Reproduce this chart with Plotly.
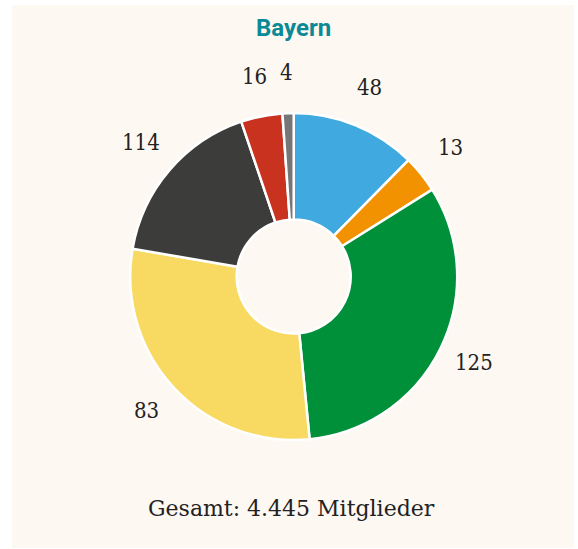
import math
import plotly.graph_objects as go

# --- data -------------------------------------------------------------
parties = ["Blau", "Orange", "Grün", "Gelb", "Dunkel", "Rot", "Grau"]
slice_shares = [12.4, 3.7, 32.4, 29.3, 17.1, 4.1, 1.1]
label_values = [48, 13, 125, 83, 114, 16, 4]               # numbers printed next to slices
slice_colors = ["#3fa9e0", "#f39200", "#00903a", "#f8da63", "#3c3c3b", "#c9321f", "#767676"]
title_text = "Bayern"
footer_text = "Gesamt: 4.445 Mitglieder"

# --- layout constants ---------------------------------------------------
W, H = 578, 549
CX, CY, R = 293.7, 276.5, 163.5   # pie centre / radius in pixels
LABEL_R = 201                       # label distance from centre
LABEL_DY = -3                       # small vertical nudge for label text
CREAM = "#fef8f2"

fig = go.Figure()
fig.add_trace(go.Pie(
    labels=parties,
    values=slice_shares,
    hole=57 / R,
    sort=False,
    direction="clockwise",
    rotation=0,
    textinfo="none",
    hoverinfo="skip",
    marker=dict(colors=slice_colors, line=dict(color="white", width=2.5)),
    domain=dict(x=[(CX - R) / W, (CX + R) / W], y=[1 - (CY + R) / H, 1 - (CY - R) / H]),
    showlegend=False,
))

# labels at mid-angle of each slice, computed from the data
total = sum(slice_shares)
cum = 0.0
annotations = []
for share, lab in zip(slice_shares, label_values):
    mid = (cum + share / 2) / total * 2 * math.pi
    cum += share
    px = CX + LABEL_R * math.sin(mid)
    py = CY + LABEL_DY - LABEL_R * math.cos(mid)
    annotations.append(dict(
        x=px / W, y=1 - py / H, xref="paper", yref="paper",
        text=str(lab), showarrow=False, xanchor="center", yanchor="middle",
        font=dict(family="DejaVu Serif Condensed, DejaVu Serif, serif", size=22, color="#222222"),
    ))

annotations.append(dict(
    x=293 / W, y=1 - 28.5 / H, xref="paper", yref="paper", text="<b>" + title_text + "</b>",
    showarrow=False, xanchor="center", yanchor="middle",
    font=dict(family="Roboto, Noto Sans, sans-serif", size=24, color="#0b8995"),
))
annotations.append(dict(
    x=291.5 / W, y=1 - 508 / H, xref="paper", yref="paper", text=footer_text,
    showarrow=False, xanchor="center", yanchor="middle",
    font=dict(family="DejaVu Serif, serif", size=22, color="#222222"),
))

fig.update_layout(
    width=W, height=H,
    margin=dict(l=0, r=0, t=0, b=0),
    paper_bgcolor="white",
    plot_bgcolor="white",
    annotations=annotations,
    shapes=[dict(type="rect", xref="paper", yref="paper",
                 x0=12 / W, x1=574 / W, y0=1 - 548 / H, y1=1 - 5 / H,
                 fillcolor=CREAM, line=dict(width=0), layer="below")],
)

fig.write_html("out.html", config={"displayModeBar": False},
               post_script="document.body.style.margin='0';")
